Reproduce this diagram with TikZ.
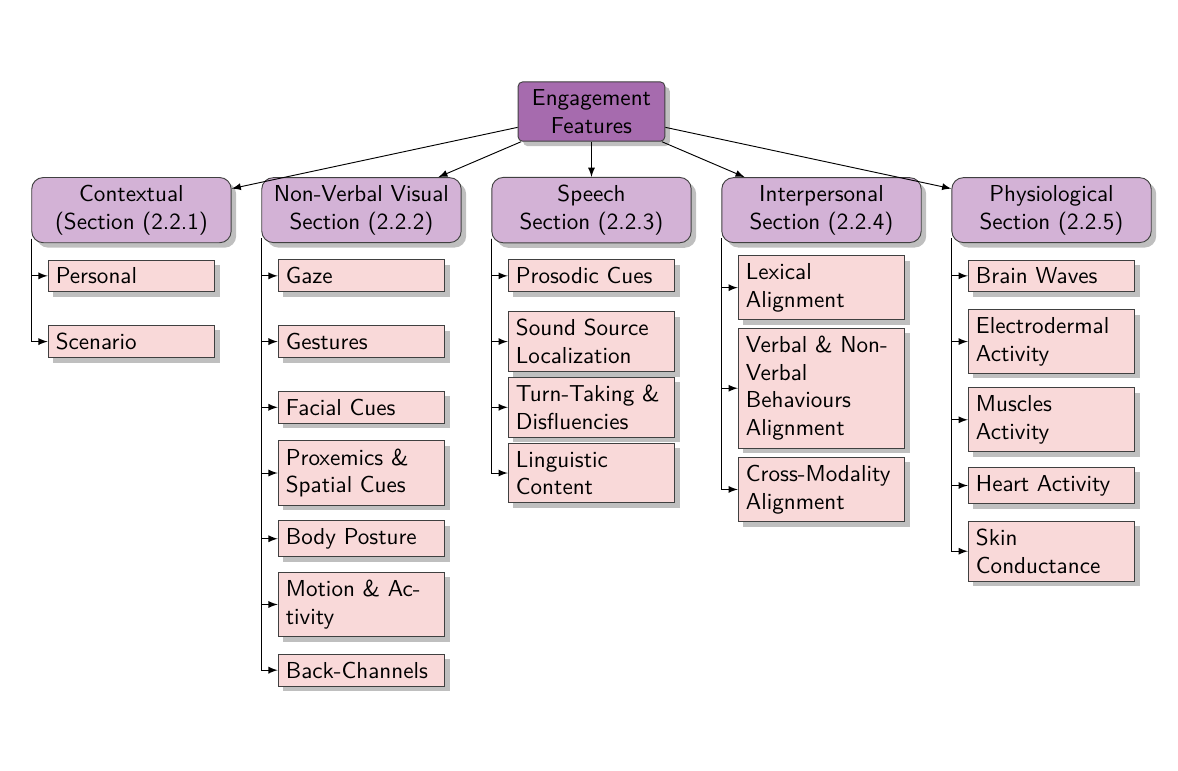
\documentclass[tikz,border=0pt]{standalone}
\usepackage{tikz}
\usetikzlibrary{shapes, arrows, arrows.meta, calc, shadows, positioning}
\definecolor{rootPurple}{HTML}{A66BAE}
\definecolor{sectionLilac}{HTML}{D3B2D6}
\definecolor{featurePink}{HTML}{F9D9D9}
\tikzstyle{topic} = [rectangle, draw=black!75, fill=rootPurple, rounded corners=2pt,
    text width=2cm, text centered, drop shadow]
\tikzstyle{section} = [rectangle, draw=black!75, fill=sectionLilac, rounded corners=5pt,
    text width=2.8cm, text centered, drop shadow]
\tikzstyle{feature} = [rectangle, draw=black!75, fill=featurePink, sharp corners,
    text width=2.3cm, drop shadow]
\tikzstyle{line} = [draw, -latex]
\hyphenpenalty=10000

\begin{document}
\begin{tikzpicture}[node distance = 1cm, font=\sffamily,
    sectionDist/.style={node distance=3.5cm},
    rowDist/.style={node distance=1cm}
    ]
    \useasboundingbox (-9.0cm,1.697cm) rectangle (8.924cm,-10.02cm);

    \node[topic] (features) {Engagement\\Features};
    \node[section, below of=features, node distance=1.5cm] (speech) {Speech\\Section (2.2.3)};
    \node[section, sectionDist, left of=speech] (nonverbal) {Non-Verbal Visual\\Section (2.2.2)};
    \node[section, sectionDist, left of=nonverbal] (contextual) {Contextual\\(Section (2.2.1)};
    \node[section, sectionDist, right of=speech] (interpersonal) {Interpersonal\\Section (2.2.4)};
    \node[section, sectionDist, right of=interpersonal] (physio) {Physiological\\Section (2.2.5)};

    % contextual
    \node[feature, rowDist, below of=contextual] (personal) {Personal};
    \node[feature, rowDist, below of=personal] (scenario) {Scenario};

    % non-verbal visual
    \node[feature, rowDist, below of=nonverbal] (gaze) {Gaze};
    \node[feature, rowDist, below of=gaze] (gestures) {Gestures};
    \node[feature, rowDist, below of=gestures] (facial) {Facial Cues};
    \node[feature, rowDist, below of=facial] (proxemics) {Proxemics \& Spatial Cues};
    \node[feature, rowDist, below of=proxemics] (posture) {Body Posture};
    \node[feature, rowDist, below of=posture] (motion) {Motion \& Ac-tivity};
    \node[feature, rowDist, below of=motion] (backchannel) {Back-Channels};

    % speech
    \node[feature, rowDist, below of=speech] (prosodic) {Prosodic Cues};
    \node[feature, rowDist, below of=prosodic] (sound) {Sound Source Localization};
    \node[feature, rowDist, below of=sound] (turntaking) {Turn-Taking \& Disfluencies};
    \node[feature, rowDist, below of=turntaking] (linguistic) {Linguistic Content};

    % interpersonal
    \node[feature, below of=interpersonal, node distance=1.18cm] (lexical) {Lexical Alignment};
    \node[feature, below of=lexical, node distance=1.53cm] (behaviour) {Verbal \& Non-\linebreak Verbal Behaviours Alignment};
    \node[feature, below of=behaviour, node distance=1.54cm] (crossmodal) {Cross-Modality Alignment};

    % physiological
    \node[feature, rowDist, below of=physio] (brain) {Brain Waves};
    \node[feature, rowDist, below of=brain] (electro) {Electrodermal Activity};
    \node[feature, below of=electro, node distance=1.19cm] (muscles) {Muscles Activity};
    \node[feature, rowDist, below of=muscles] (heart) {Heart Activity};
    \node[feature, rowDist, below of=heart] (skin) {Skin Conductance};

    \draw[line] (features) -- (contextual);
    \draw[line] (features) -- (nonverbal);
    \draw[line] (features) -- (speech);
    \draw[line] (features) -- (interpersonal);
    \draw[line] (features) -- (physio);

    \draw[line] ([yshift=2pt]contextual.south west) |- (personal.west);
    \draw[line] ([yshift=2pt]contextual.south west) |- (scenario.west);

    \draw[line] ([yshift=2pt]nonverbal.south west) |- (gaze.west);
    \draw[line] ([yshift=2pt]nonverbal.south west) |- (gestures.west);
    \draw[line] ([yshift=2pt]nonverbal.south west) |- (facial.west);
    \draw[line] ([yshift=2pt]nonverbal.south west) |- (proxemics.west);
    \draw[line] ([yshift=2pt]nonverbal.south west) |- (posture.west);
    \draw[line] ([yshift=2pt]nonverbal.south west) |- (motion.west);
    \draw[line] ([yshift=2pt]nonverbal.south west) |- (backchannel.west);

    \draw[line] ([yshift=2pt]speech.south west) |- (prosodic.west);
    \draw[line] ([yshift=2pt]speech.south west) |- (sound.west);
    \draw[line] ([yshift=2pt]speech.south west) |- (turntaking.west);
    \draw[line] ([yshift=2pt]speech.south west) |- (linguistic.west);

    \draw[line] ([yshift=2pt]interpersonal.south west) |- (lexical.west);
    \draw[line] ([yshift=2pt]interpersonal.south west) |- (behaviour.west);
    \draw[line] ([yshift=2pt]interpersonal.south west) |- (crossmodal.west);

    \draw[line] ([yshift=2pt]physio.south west) |- (brain.west);
    \draw[line] ([yshift=2pt]physio.south west) |- (electro.west);
    \draw[line] ([yshift=2pt]physio.south west) |- (muscles.west);
    \draw[line] ([yshift=2pt]physio.south west) |- (heart.west);
    \draw[line] ([yshift=2pt]physio.south west) |- (skin.west);
\end{tikzpicture}
\end{document}
